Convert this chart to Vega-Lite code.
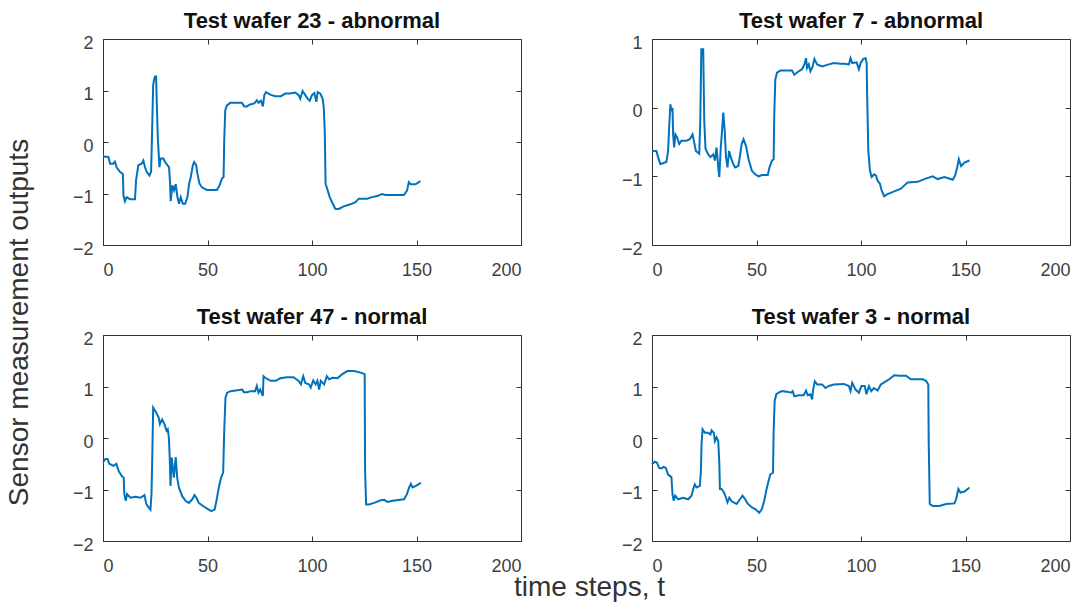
{
  "$schema": "https://vega.github.io/schema/vega-lite/v6.json",
  "padding": {"left": 4, "top": 9, "right": 5, "bottom": 5},
  "background": "white",
  "config": {
    "font": "Liberation Sans",
    "view": {"stroke": "#333333", "strokeWidth": 1},
    "axis": {"domain": false, "grid": false, "tickColor": "#333333", "tickSize": -5, "tickWidth": 1, "labelFont": "Liberation Sans", "labelFontSize": 18, "labelColor": "#404040", "titleFont": "Liberation Sans", "titleFontSize": 28, "titleColor": "#333333", "titleFontWeight": "normal"},
    "axisY": {"labelPadding": 15, "labelOffset": 4},
    "axisX": {"labelPadding": 21},
    "title": {"font": "Liberation Sans", "fontSize": 22, "fontWeight": "bold", "color": "#111111", "offset": 1, "baseline": "alphabetic", "frame": "group", "anchor": "middle"}
  },
  "datasets": {
    "w23": [
      {"t":0,"v":-0.28},{"t":2.6,"v":-0.29},{"t":3.4,"v":-0.42},{"t":4.9,"v":-0.42},{"t":5.7,"v":-0.38},{"t":6.5,"v":-0.49},{"t":8.1,"v":-0.58},{"t":9.5,"v":-0.62},{"t":9.8,"v":-1.04},{"t":10.5,"v":-1.15},{"t":11.3,"v":-1.07},{"t":12.9,"v":-1.11},{"t":15.3,"v":-1.11},{"t":15.8,"v":-0.75},{"t":16.9,"v":-0.45},{"t":18.5,"v":-0.42},{"t":19.3,"v":-0.36},{"t":20.1,"v":-0.49},{"t":20.9,"v":-0.58},{"t":22.2,"v":-0.65},{"t":23,"v":-0.58},{"t":23.3,"v":-0.13},{"t":24,"v":1.1},{"t":24.4,"v":1.2},{"t":24.9,"v":1.27},{"t":25.4,"v":1.27},{"t":25.7,"v":0.81},{"t":26.2,"v":0.1},{"t":27,"v":-0.49},{"t":27.6,"v":-0.32},{"t":28.9,"v":-0.32},{"t":29.7,"v":-0.39},{"t":30.8,"v":-0.45},{"t":31.6,"v":-0.49},{"t":32.1,"v":-0.81},{"t":32.4,"v":-1.15},{"t":33.2,"v":-0.84},{"t":34,"v":-0.94},{"t":34.8,"v":-0.82},{"t":35.6,"v":-1.07},{"t":36.4,"v":-1.2},{"t":37.2,"v":-1.07},{"t":38.2,"v":-1.2},{"t":39.3,"v":-1.2},{"t":40.4,"v":-1.07},{"t":41.2,"v":-0.81},{"t":42,"v":-0.68},{"t":43,"v":-0.45},{"t":43.6,"v":-0.39},{"t":44.6,"v":-0.45},{"t":45.2,"v":-0.62},{"t":46.2,"v":-0.81},{"t":47.3,"v":-0.88},{"t":49.7,"v":-0.93},{"t":54.5,"v":-0.93},{"t":55.8,"v":-0.84},{"t":56.9,"v":-0.71},{"t":57.7,"v":-0.68},{"t":58,"v":0.03},{"t":58.5,"v":0.62},{"t":59.3,"v":0.71},{"t":60.9,"v":0.76},{"t":66.5,"v":0.76},{"t":67.6,"v":0.69},{"t":68.8,"v":0.69},{"t":70.4,"v":0.73},{"t":72.4,"v":0.75},{"t":73.6,"v":0.81},{"t":74.4,"v":0.76},{"t":75.6,"v":0.8},{"t":76.5,"v":0.69},{"t":77.2,"v":0.91},{"t":78,"v":0.97},{"t":80,"v":0.92},{"t":82.4,"v":0.89},{"t":85.1,"v":0.89},{"t":87.2,"v":0.94},{"t":89.6,"v":0.94},{"t":92,"v":0.96},{"t":93.6,"v":0.91},{"t":94.4,"v":0.84},{"t":95.5,"v":0.99},{"t":96.8,"v":0.91},{"t":97.9,"v":0.84},{"t":98.9,"v":0.8},{"t":100,"v":0.91},{"t":101.1,"v":0.95},{"t":102.1,"v":0.78},{"t":102.7,"v":0.97},{"t":104,"v":0.94},{"t":105.1,"v":0.84},{"t":105.6,"v":0.68},{"t":106.1,"v":0.23},{"t":106.5,"v":-0.81},{"t":107.5,"v":-0.94},{"t":108.5,"v":-1.07},{"t":109.6,"v":-1.17},{"t":111.2,"v":-1.3},{"t":112.8,"v":-1.3},{"t":115.2,"v":-1.25},{"t":118.4,"v":-1.21},{"t":120.8,"v":-1.17},{"t":122.4,"v":-1.1},{"t":126.4,"v":-1.1},{"t":128.7,"v":-1.07},{"t":131.2,"v":-1.05},{"t":133.5,"v":-1.01},{"t":135.1,"v":-1.03},{"t":144,"v":-1.03},{"t":145.5,"v":-0.94},{"t":146.3,"v":-0.78},{"t":147.1,"v":-0.82},{"t":149.5,"v":-0.82},{"t":151.9,"v":-0.76}
    ],
    "w7": [
      {"t":0,"v":-0.63},{"t":2.1,"v":-0.63},{"t":2.9,"v":-0.72},{"t":4,"v":-0.82},{"t":5.3,"v":-0.81},{"t":6.9,"v":-0.79},{"t":7.7,"v":-0.63},{"t":8.2,"v":-0.29},{"t":8.8,"v":0.05},{"t":9.3,"v":-0.05},{"t":9.8,"v":0},{"t":10.1,"v":-0.39},{"t":10.6,"v":-0.58},{"t":11.2,"v":-0.39},{"t":12,"v":-0.43},{"t":13,"v":-0.53},{"t":14.1,"v":-0.48},{"t":16.5,"v":-0.48},{"t":18.1,"v":-0.46},{"t":19.4,"v":-0.39},{"t":20,"v":-0.48},{"t":21,"v":-0.63},{"t":22.6,"v":-0.67},{"t":23.1,"v":-0.19},{"t":23.6,"v":0.85},{"t":24.5,"v":0.85},{"t":25,"v":-0.19},{"t":25.6,"v":-0.6},{"t":26.9,"v":-0.68},{"t":28,"v":-0.72},{"t":29.3,"v":-0.68},{"t":30.1,"v":-0.77},{"t":30.9,"v":-0.58},{"t":31.7,"v":-0.87},{"t":32.2,"v":-1.01},{"t":32.9,"v":-0.58},{"t":33.5,"v":-0.34},{"t":34.1,"v":-0.07},{"t":34.8,"v":-0.34},{"t":35.4,"v":-0.72},{"t":36.1,"v":-0.87},{"t":36.9,"v":-0.63},{"t":37.7,"v":-0.72},{"t":38.6,"v":-0.8},{"t":39.7,"v":-0.87},{"t":41.3,"v":-0.85},{"t":42.1,"v":-0.7},{"t":42.9,"v":-0.53},{"t":43.8,"v":-0.46},{"t":45,"v":-0.56},{"t":46.2,"v":-0.75},{"t":47.8,"v":-0.92},{"t":49.4,"v":-0.97},{"t":51,"v":-1.0},{"t":52.6,"v":-0.98},{"t":55.4,"v":-0.98},{"t":56.2,"v":-0.87},{"t":57.4,"v":-0.77},{"t":58.2,"v":-0.75},{"t":58.5,"v":-0.1},{"t":59,"v":0.41},{"t":59.8,"v":0.51},{"t":61.4,"v":0.54},{"t":67,"v":0.54},{"t":68.1,"v":0.48},{"t":69.7,"v":0.52},{"t":71.8,"v":0.56},{"t":72.9,"v":0.63},{"t":73.7,"v":0.72},{"t":74.2,"v":0.58},{"t":75,"v":0.63},{"t":75.8,"v":0.53},{"t":76.9,"v":0.6},{"t":77.7,"v":0.71},{"t":79,"v":0.63},{"t":81.4,"v":0.6},{"t":84.6,"v":0.63},{"t":87,"v":0.65},{"t":90.2,"v":0.64},{"t":92.1,"v":0.64},{"t":94.2,"v":0.63},{"t":95,"v":0.72},{"t":95.8,"v":0.65},{"t":97.9,"v":0.66},{"t":99,"v":0.56},{"t":99.8,"v":0.65},{"t":101.1,"v":0.71},{"t":102.2,"v":0.72},{"t":102.7,"v":0.65},{"t":103,"v":0.1},{"t":103.5,"v":-0.63},{"t":104.3,"v":-0.92},{"t":105.1,"v":-1.01},{"t":106.3,"v":-0.97},{"t":107.2,"v":-0.99},{"t":107.9,"v":-1.06},{"t":109.1,"v":-1.11},{"t":109.9,"v":-1.21},{"t":111.1,"v":-1.29},{"t":112.7,"v":-1.26},{"t":115.9,"v":-1.22},{"t":119.1,"v":-1.18},{"t":121.5,"v":-1.11},{"t":122.3,"v":-1.09},{"t":127.1,"v":-1.08},{"t":130.3,"v":-1.04},{"t":134.3,"v":-1.0},{"t":136.7,"v":-1.04},{"t":139.9,"v":-1.01},{"t":143.9,"v":-1.05},{"t":145,"v":-0.99},{"t":146,"v":-0.87},{"t":146.8,"v":-0.75},{"t":147.9,"v":-0.85},{"t":149.5,"v":-0.8},{"t":151.9,"v":-0.77}
    ],
    "w47": [
      {"t":0,"v":-0.47},{"t":1.1,"v":-0.41},{"t":2.2,"v":-0.41},{"t":3,"v":-0.5},{"t":5,"v":-0.54},{"t":6.4,"v":-0.5},{"t":7.5,"v":-0.64},{"t":9,"v":-0.74},{"t":9.9,"v":-0.77},{"t":10.2,"v":-1.09},{"t":10.9,"v":-1.22},{"t":11.5,"v":-1.09},{"t":13.1,"v":-1.16},{"t":15.5,"v":-1.14},{"t":17.9,"v":-1.16},{"t":19.8,"v":-1.11},{"t":20.8,"v":-1.29},{"t":21.9,"v":-1.35},{"t":22.7,"v":-1.39},{"t":23.2,"v":-1.09},{"t":23.5,"v":-0.54},{"t":24,"v":0.59},{"t":25.1,"v":0.52},{"t":26.7,"v":0.39},{"t":27.2,"v":0.27},{"t":28.3,"v":0.36},{"t":29.4,"v":0.27},{"t":30.4,"v":0.14},{"t":31,"v":0.17},{"t":31.5,"v":0.01},{"t":31.9,"v":-0.35},{"t":32.3,"v":-0.93},{"t":32.9,"v":-0.38},{"t":33.9,"v":-0.77},{"t":34.8,"v":-0.37},{"t":35.5,"v":-0.77},{"t":36.3,"v":-0.96},{"t":37.9,"v":-1.13},{"t":39.5,"v":-1.22},{"t":41.1,"v":-1.26},{"t":42.7,"v":-1.19},{"t":43.8,"v":-1.11},{"t":44.7,"v":-1.16},{"t":45.8,"v":-1.26},{"t":48.2,"v":-1.33},{"t":50.6,"v":-1.39},{"t":51.8,"v":-1.42},{"t":53.4,"v":-1.39},{"t":54.3,"v":-1.22},{"t":55.4,"v":-0.96},{"t":56.5,"v":-0.77},{"t":57.5,"v":-0.67},{"t":58,"v":0.14},{"t":58.6,"v":0.78},{"t":59.4,"v":0.88},{"t":61,"v":0.91},{"t":66.6,"v":0.94},{"t":67.4,"v":0.89},{"t":69,"v":0.89},{"t":70.6,"v":0.91},{"t":72.8,"v":0.91},{"t":73.6,"v":1.01},{"t":74.4,"v":0.88},{"t":75.2,"v":0.94},{"t":76.5,"v":0.82},{"t":76.8,"v":1.2},{"t":77.6,"v":1.17},{"t":80.2,"v":1.11},{"t":82.6,"v":1.11},{"t":84.8,"v":1.16},{"t":88,"v":1.18},{"t":91.2,"v":1.18},{"t":93.6,"v":1.11},{"t":94.7,"v":1.04},{"t":95.8,"v":1.2},{"t":96.8,"v":1.07},{"t":98.6,"v":1.04},{"t":99.4,"v":0.98},{"t":100.6,"v":1.12},{"t":101.7,"v":1.04},{"t":102.6,"v":1.11},{"t":103.4,"v":0.94},{"t":104.2,"v":1.11},{"t":105.8,"v":1.04},{"t":107.1,"v":1.2},{"t":108.2,"v":1.14},{"t":109.8,"v":1.17},{"t":112.2,"v":1.16},{"t":114.5,"v":1.24},{"t":116.9,"v":1.3},{"t":120.1,"v":1.3},{"t":123.3,"v":1.27},{"t":125.2,"v":1.24},{"t":125.4,"v":-0.64},{"t":125.9,"v":-1.29},{"t":127.3,"v":-1.29},{"t":129.7,"v":-1.26},{"t":132.9,"v":-1.21},{"t":134.5,"v":-1.2},{"t":136.1,"v":-1.24},{"t":138.5,"v":-1.22},{"t":144.1,"v":-1.19},{"t":145.4,"v":-1.09},{"t":146.5,"v":-0.96},{"t":147.3,"v":-0.89},{"t":148.1,"v":-0.96},{"t":149.7,"v":-0.93},{"t":152.1,"v":-0.87}
    ],
    "w3": [
      {"t":0,"v":-0.51},{"t":1.3,"v":-0.46},{"t":2.4,"v":-0.48},{"t":3.4,"v":-0.58},{"t":4.5,"v":-0.59},{"t":5.6,"v":-0.56},{"t":6.6,"v":-0.58},{"t":7.7,"v":-0.71},{"t":9.3,"v":-0.76},{"t":9.8,"v":-1.09},{"t":10.4,"v":-1.22},{"t":11.1,"v":-1.12},{"t":12.5,"v":-1.19},{"t":14.9,"v":-1.16},{"t":17.3,"v":-1.19},{"t":18.9,"v":-1.12},{"t":19.7,"v":-0.99},{"t":20.5,"v":-0.9},{"t":21.3,"v":-0.96},{"t":22.9,"v":-0.93},{"t":23.4,"v":-0.64},{"t":23.7,"v":-0.12},{"t":24.2,"v":0.17},{"t":25.3,"v":0.1},{"t":26.9,"v":0.1},{"t":28,"v":0.07},{"t":28.5,"v":0.15},{"t":29.6,"v":0.1},{"t":30.1,"v":-0.06},{"t":30.9,"v":0.01},{"t":31.7,"v":-0.06},{"t":32.2,"v":-0.48},{"t":32.5,"v":-0.99},{"t":33.3,"v":-0.99},{"t":34.5,"v":-1.06},{"t":35.4,"v":-1.16},{"t":36.1,"v":-1.25},{"t":37,"v":-1.16},{"t":38.1,"v":-1.23},{"t":40.5,"v":-1.28},{"t":42.1,"v":-1.19},{"t":43.3,"v":-1.12},{"t":44.6,"v":-1.19},{"t":45.7,"v":-1.27},{"t":47.8,"v":-1.35},{"t":49.4,"v":-1.38},{"t":51.3,"v":-1.45},{"t":52.6,"v":-1.38},{"t":53.7,"v":-1.22},{"t":54.6,"v":-1.03},{"t":55.8,"v":-0.83},{"t":56.6,"v":-0.71},{"t":57.9,"v":-0.67},{"t":58.2,"v":0.14},{"t":58.7,"v":0.72},{"t":59.5,"v":0.85},{"t":60.6,"v":0.88},{"t":62.2,"v":0.91},{"t":64.6,"v":0.9},{"t":66.5,"v":0.88},{"t":67.3,"v":0.91},{"t":68.1,"v":0.81},{"t":70.2,"v":0.83},{"t":72.6,"v":0.83},{"t":73.7,"v":0.92},{"t":74.5,"v":0.83},{"t":75.8,"v":0.85},{"t":76.6,"v":0.75},{"t":77.1,"v":0.94},{"t":77.9,"v":1.1},{"t":79,"v":1.04},{"t":81.4,"v":1.04},{"t":83,"v":0.97},{"t":84.6,"v":1.01},{"t":87,"v":1.04},{"t":91.8,"v":1.05},{"t":94.2,"v":1.01},{"t":95,"v":0.91},{"t":95.8,"v":1.07},{"t":97.4,"v":0.94},{"t":99,"v":0.88},{"t":100.2,"v":1.01},{"t":101.8,"v":1.01},{"t":102.6,"v":0.85},{"t":103.8,"v":1.01},{"t":104.9,"v":0.91},{"t":106.2,"v":0.97},{"t":107.9,"v":0.92},{"t":109.5,"v":1.04},{"t":111.1,"v":1.08},{"t":113.5,"v":1.14},{"t":115.9,"v":1.22},{"t":118.3,"v":1.21},{"t":121.5,"v":1.21},{"t":123.9,"v":1.14},{"t":127.1,"v":1.14},{"t":129.5,"v":1.14},{"t":131.1,"v":1.11},{"t":132.2,"v":1.04},{"t":132.4,"v":-0.09},{"t":132.9,"v":-1.28},{"t":134.3,"v":-1.32},{"t":137.5,"v":-1.32},{"t":140.7,"v":-1.28},{"t":144.7,"v":-1.27},{"t":145.5,"v":-1.19},{"t":146.6,"v":-0.99},{"t":147.6,"v":-1.06},{"t":149.5,"v":-1.04},{"t":151.9,"v":-0.96}
    ]
  },
  "columns": 2,
  "spacing": {"row": 90, "column": 131},
  "bounds": "flush",
  "concat": [
    {
      "width": 418, "height": 206,
      "title": {"text": "Test wafer 23 - abnormal"},
      "data": {"name": "w23"},
      "resolve": {"axis": {"x": "independent", "y": "independent"}},
      "layer": [
        {"mark": {"type": "line", "color": "#0072BD", "strokeWidth": 2},
         "encoding": {
           "x": {"field": "t", "type": "quantitative", "scale": {"domain": [0, 200], "nice": false, "zero": false}, "axis": {"values": [0, 50, 100, 150, 200], "title": null}},
           "y": {"field": "v", "type": "quantitative", "scale": {"domain": [-2, 2], "nice": false, "zero": false}, "axis": {"values": [-2, -1, 0, 1, 2], "title": "Sensor measurement outputs", "titleX": -76, "titleY": 283, "titleBaseline": "alphabetic", "titleAlign": "center", "titleAngle": -90}}}},
        {"mark": {"type": "line", "opacity": 0},
         "encoding": {
           "x": {"field": "t", "type": "quantitative", "axis": {"orient": "top", "values": [0, 50, 100, 150, 200], "labels": false, "title": null}},
           "y": {"field": "v", "type": "quantitative", "axis": {"orient": "right", "values": [-2, -1, 0, 1, 2], "labels": false, "title": null}}}}
      ]
    },
    {
      "width": 418, "height": 206,
      "title": {"text": "Test wafer 7 - abnormal"},
      "data": {"name": "w7"},
      "resolve": {"axis": {"x": "independent", "y": "independent"}},
      "layer": [
        {"mark": {"type": "line", "color": "#0072BD", "strokeWidth": 2},
         "encoding": {
           "x": {"field": "t", "type": "quantitative", "scale": {"domain": [0, 200], "nice": false, "zero": false}, "axis": {"values": [0, 50, 100, 150, 200], "title": null}},
           "y": {"field": "v", "type": "quantitative", "scale": {"domain": [-2, 1], "nice": false, "zero": false}, "axis": {"values": [-2, -1, 0, 1], "title": null}}}},
        {"mark": {"type": "line", "opacity": 0},
         "encoding": {
           "x": {"field": "t", "type": "quantitative", "axis": {"orient": "top", "values": [0, 50, 100, 150, 200], "labels": false, "title": null}},
           "y": {"field": "v", "type": "quantitative", "axis": {"orient": "right", "values": [-2, -1, 0, 1], "labels": false, "title": null}}}}
      ]
    },
    {
      "width": 418, "height": 206,
      "title": {"text": "Test wafer 47 - normal"},
      "data": {"name": "w47"},
      "resolve": {"axis": {"x": "independent", "y": "independent"}},
      "layer": [
        {"mark": {"type": "line", "color": "#0072BD", "strokeWidth": 2},
         "encoding": {
           "x": {"field": "t", "type": "quantitative", "scale": {"domain": [0, 200], "nice": false, "zero": false}, "axis": {"values": [0, 50, 100, 150, 200], "title": "time steps, t", "titleX": 486, "titleY": 54, "titleBaseline": "alphabetic", "titleAlign": "center"}},
           "y": {"field": "v", "type": "quantitative", "scale": {"domain": [-2, 2], "nice": false, "zero": false}, "axis": {"values": [-2, -1, 0, 1, 2], "title": null}}}},
        {"mark": {"type": "line", "opacity": 0},
         "encoding": {
           "x": {"field": "t", "type": "quantitative", "axis": {"orient": "top", "values": [0, 50, 100, 150, 200], "labels": false, "title": null}},
           "y": {"field": "v", "type": "quantitative", "axis": {"orient": "right", "values": [-2, -1, 0, 1, 2], "labels": false, "title": null}}}}
      ]
    },
    {
      "width": 418, "height": 206,
      "title": {"text": "Test wafer 3 - normal"},
      "data": {"name": "w3"},
      "resolve": {"axis": {"x": "independent", "y": "independent"}},
      "layer": [
        {"mark": {"type": "line", "color": "#0072BD", "strokeWidth": 2},
         "encoding": {
           "x": {"field": "t", "type": "quantitative", "scale": {"domain": [0, 200], "nice": false, "zero": false}, "axis": {"values": [0, 50, 100, 150, 200], "title": null}},
           "y": {"field": "v", "type": "quantitative", "scale": {"domain": [-2, 2], "nice": false, "zero": false}, "axis": {"values": [-2, -1, 0, 1, 2], "title": null}}}},
        {"mark": {"type": "line", "opacity": 0},
         "encoding": {
           "x": {"field": "t", "type": "quantitative", "axis": {"orient": "top", "values": [0, 50, 100, 150, 200], "labels": false, "title": null}},
           "y": {"field": "v", "type": "quantitative", "axis": {"orient": "right", "values": [-2, -1, 0, 1, 2], "labels": false, "title": null}}}}
      ]
    }
  ]
}
